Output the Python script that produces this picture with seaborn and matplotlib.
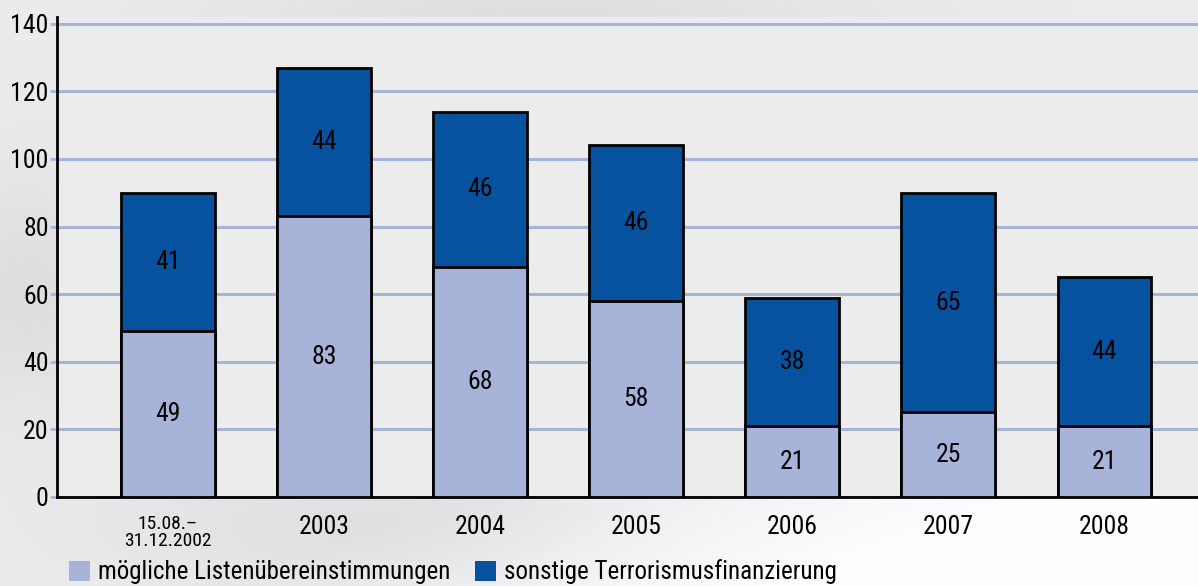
import numpy as np
import pandas as pd
import matplotlib
matplotlib.use("Agg")
import matplotlib.pyplot as plt
from matplotlib import font_manager
from matplotlib.patches import Patch
import seaborn as sns

# data
periods = ["15.08.–\n31.12.2002", "2003", "2004", "2005", "2006", "2007", "2008"]
listen = [49, 83, 68, 58, 21, 25, 21]
sonstige = [41, 44, 46, 46, 38, 65, 44]
legend_labels = ["mögliche Listenübereinstimmungen", "sonstige Terrorismusfinanzierung"]

light = "#a7b3d9"
dark = "#07529e"
grid_col = "#a6b3da"

df = pd.DataFrame({"period": periods, "listen": listen, "sonstige": sonstige})
df["total"] = df["listen"] + df["sonstige"]

sns.set_style("white")
# pick a narrow face if there is one, otherwise Liberation Sans
installed = {f.name for f in font_manager.fontManager.ttflist}
face = "Liberation Sans"
for cand in ["Liberation Sans Narrow", "Roboto Condensed", "Open Sans Condensed", "Noto Sans Condensed"]:
    if cand in installed:
        face = cand
        break
narrow = face != "Liberation Sans"
plt.rcParams["font.family"] = [face, "DejaVu Sans"]
plt.rcParams["text.color"] = "black"
fs = 18.5 if narrow else 15.5

fig = plt.figure(figsize=(11.98, 5.86), dpi=100)

# soft grey background behind everything
bg = fig.add_axes([0, 0, 1, 1], zorder=-10)
yy, xx = np.mgrid[0:1:300j, 0:1:600j]
shade = 0.93 - 0.06 * np.exp(-((xx - 0.45) ** 2) / 0.08 - ((yy - 0.05) ** 2) / 0.02)
shade = shade - 0.06 * np.exp(-((xx - 0.02) ** 2) / 0.01 - ((yy - 0.5) ** 2) / 0.05)
shade = shade - 0.05 * np.exp(-((xx - 0.3) ** 2) / 0.05 - ((yy - 0.9) ** 2) / 0.02)
shade = shade + 0.07 * np.clip((xx - 0.55) * 2 + (yy - 0.75) * 3, 0, 1)
shade = np.clip(shade, 0, 1)
bg.imshow(np.dstack([shade, shade, shade * 1.01]).clip(0, 1), aspect="auto",
          extent=[0, 1, 0, 1], origin="upper")
bg.axis("off")

ax = fig.add_axes([57 / 1198, 89 / 586, 1141 / 1198, 480 / 586])
ax.set_facecolor("#ebeceb")

sns.barplot(data=df, x="period", y="total", color=dark, width=0.6,
            edgecolor="black", linewidth=2, saturation=1, ax=ax, zorder=3)
sns.barplot(data=df, x="period", y="listen", color=light, width=0.6,
            edgecolor="black", linewidth=2, saturation=1, ax=ax, zorder=4)

for i, row in df.iterrows():
    ax.text(i, row["listen"] / 2, str(row["listen"]), ha="center", va="center",
            fontsize=fs, color="black", zorder=5)
    ax.text(i, row["listen"] + row["sonstige"] / 2, str(row["sonstige"]),
            ha="center", va="center", fontsize=fs, color="black", zorder=5)

ax.set_xlim(-0.71, 6.6)
ax.set_ylim(0, 142)
ax.set_yticks(range(0, 141, 20))
ax.yaxis.grid(True, color=grid_col, linewidth=2.2)
ax.set_axisbelow(True)
ax.set_xlabel("")
ax.set_ylabel("")

for side in ["top", "right"]:
    ax.spines[side].set_visible(False)
for side in ["left", "bottom"]:
    ax.spines[side].set_linewidth(2)
    ax.spines[side].set_color("black")

ax.tick_params(axis="y", length=5, width=2, color=grid_col, labelsize=fs,
               labelcolor="black", pad=1, left=True)
ax.tick_params(axis="x", length=0, labelsize=fs, labelcolor="black", pad=13)
labels = ax.get_xticklabels()
labels[0].set_fontsize(fs - 4.5)
labels[0].set_linespacing(0.95)

handles = [Patch(facecolor=light, edgecolor="none"), Patch(facecolor=dark, edgecolor="none")]
fig.legend(handles, legend_labels, loc="center left", bbox_to_anchor=(69 / 1198, 1 - 572 / 586),
           ncol=2, frameon=False, fontsize=fs - 0.5, handlelength=0.85, handleheight=0.85,
           handletextpad=0.3, columnspacing=1.0, borderaxespad=0, borderpad=0,
           labelcolor="black")

fig.savefig("out.png", dpi=100)
